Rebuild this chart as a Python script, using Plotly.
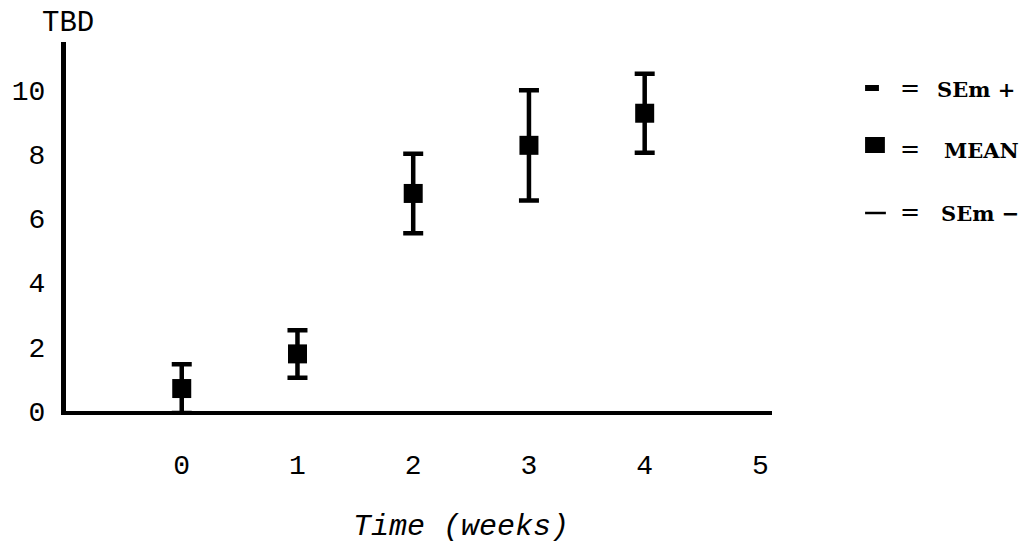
import plotly.graph_objects as go

# Time course of TBD: mean with standard error of the mean
weeks = [0, 1, 2, 3, 4]
mean_tbd = [0.70, 1.78, 6.78, 8.28, 9.28]
sem_tbd = [0.76, 0.74, 1.24, 1.72, 1.23]

x_ticks = [0, 1, 2, 3, 4, 5]
y_ticks = [0, 2, 4, 6, 8, 10]

W, H = 1036, 547
L, R, T, B = 59, 264, 42, 136
plot_w = W - L - R
plot_h = H - T - B


def px_x(px):
    return (px - L) / plot_w


def px_y(py):
    return (H - B - py) / plot_h


mono = "Liberation Mono"

fig = go.Figure()
fig.add_trace(go.Scatter(
    x=weeks, y=mean_tbd,
    mode="markers",
    marker=dict(symbol="square", size=19, color="black"),
    error_y=dict(type="data", array=sem_tbd, visible=True,
                 thickness=4.5, width=10, color="black"),
    cliponaxis=False,
    showlegend=False,
))

fig.update_xaxes(
    range=[-1, 5.1], tickvals=x_ticks, ticktext=[str(v) for v in x_ticks],
    showline=True, linewidth=4, linecolor="black",
    showgrid=False, zeroline=False, ticks="",
    ticklabelstandoff=25,
    tickfont=dict(family=mono, size=28, color="black"),
)
fig.update_yaxes(
    range=[0, 11.5], tickvals=y_ticks, ticktext=[str(v) for v in y_ticks],
    showline=True, linewidth=5, linecolor="black",
    showgrid=False, zeroline=False, ticks="",
    ticklabelstandoff=10,
    tickfont=dict(family=mono, size=28, color="black"),
)

annotations = [
    dict(text="TBD", x=px_x(61), y=px_y(23), xref="paper", yref="paper",
         showarrow=False, xanchor="center", yanchor="middle",
         font=dict(family=mono, size=29, color="black")),
    dict(text="<i>Time (weeks)</i>", x=px_x(458), y=px_y(527),
         xref="paper", yref="paper", showarrow=False,
         xanchor="center", yanchor="middle",
         font=dict(family=mono, size=30, color="black")),
]

# Key on the right: glyph, "=", and label for each row
key_rows = [
    ("SEm +", 88, 937),
    ("MEAN", 149, 944),
    ("SEm \u2212", 212, 941),
]
for label, yc, xl in key_rows:
    annotations.append(dict(
        text="=", x=px_x(911), y=px_y(yc), xref="paper", yref="paper",
        showarrow=False, xanchor="center", yanchor="middle",
        font=dict(family="DejaVu Sans", size=24, color="black")))
    annotations.append(dict(
        text="<b>" + label + "</b>", x=px_x(xl), y=px_y(yc + 1),
        xref="paper", yref="paper", showarrow=False,
        xanchor="left", yanchor="middle",
        font=dict(family="DejaVu Serif", size=21, color="black")))

shapes = [
    # upper SEm cap glyph
    dict(type="rect", xref="paper", yref="paper",
         x0=px_x(866), x1=px_x(880), y0=px_y(91), y1=px_y(85),
         fillcolor="black", line=dict(width=0)),
    # mean square glyph
    dict(type="rect", xref="paper", yref="paper",
         x0=px_x(866), x1=px_x(886), y0=px_y(153), y1=px_y(137),
         fillcolor="black", line=dict(width=0)),
    # lower SEm cap glyph
    dict(type="line", xref="paper", yref="paper",
         x0=px_x(866), x1=px_x(887), y0=px_y(213), y1=px_y(213),
         line=dict(color="black", width=2.5)),
]

fig.update_layout(
    width=W, height=H,
    margin=dict(l=L, r=R, t=T, b=B),
    paper_bgcolor="white", plot_bgcolor="white",
    annotations=annotations, shapes=shapes,
    showlegend=False,
)

fig.write_html("out.html")
